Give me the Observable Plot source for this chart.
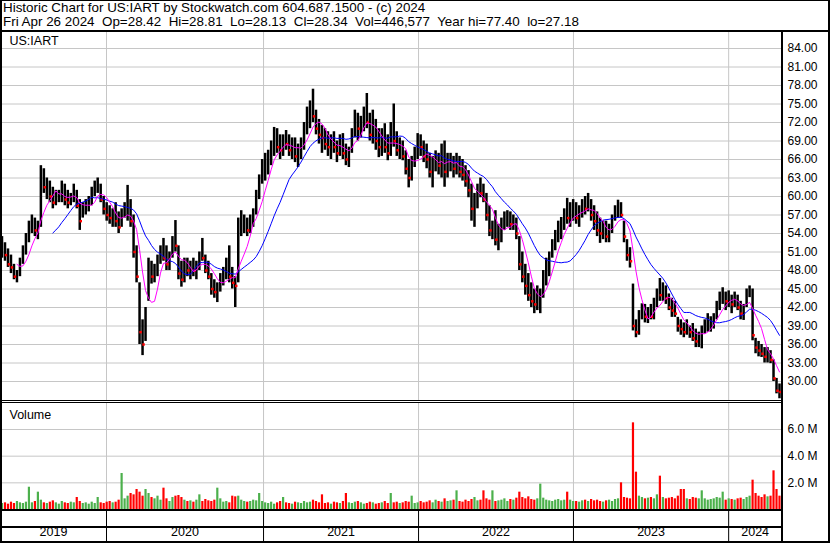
<!DOCTYPE html>
<html><head><meta charset="utf-8">
<script src="https://cdn.jsdelivr.net/npm/d3@7"></script>
<script src="https://cdn.jsdelivr.net/npm/@observablehq/plot@0.6"></script>
<style>
html,body{margin:0;padding:0;background:#fff;}
#wrap{position:relative;width:830px;height:543px;overflow:hidden;background:#fff;font-family:"Liberation Sans",Arial,sans-serif;}
.ln{position:absolute;background:#000;}
.pl{position:absolute;left:0;}
.pl svg{display:block;}
#hdr{position:absolute;left:3px;top:1px;font-size:13.4px;line-height:14px;white-space:pre;color:#000;}
</style></head><body>
<div id="wrap">
  <div id="hdr"></div>
  <div class="pl" id="price" style="top:32px"></div>
  <div class="pl" id="vol" style="top:403px"></div>
  <div class="pl" id="years" style="top:511px"></div>
  <div class="ln" style="left:0;top:0;width:830px;height:1px"></div>
  <div class="ln" style="left:0;top:0;width:2px;height:543px"></div>
  <div class="ln" style="left:828px;top:0;width:2px;height:543px"></div>
  <div class="ln" style="left:0;top:541px;width:830px;height:2px"></div>
  <div class="ln" style="left:0;top:30px;width:830px;height:2px"></div>
  <div class="ln" style="left:781px;top:30px;width:2px;height:513px"></div>
  <div class="ln" style="left:0;top:400px;width:781px;height:1px"></div>
  <div class="ln" style="left:0;top:402px;width:781px;height:1px"></div>
  <div class="ln" style="left:0;top:509px;width:781px;height:2px"></div>
  <div class="ln" style="left:0;top:526px;width:781px;height:2px"></div>
</div>
<script>
// ---- header text ----
const titleLine = "Historic Chart for US:IART by Stockwatch.com 604.687.1500 - (c) 2024";
const quoteLine = "Fri Apr 26 2024  Op=28.42  Hi=28.81  Lo=28.13  Cl=28.34  Vol=446,577  Year hi=77.40  lo=27.18";
const symbolLabel = "US:IART";
const volumeLabel = "Volume";

// ---- axis ticks / labels ----
const priceTicks = [30,33,36,39,42,45,48,51,54,57,60,63,66,69,72,75,78,81,84];
const volTicks = [2,4,6]; // millions
const yearLabels = ["2019","2020","2021","2022","2023","2024"];
const yearStartWeek = [34.95, 87.46, 139.3, 191.1, 243.0]; // week index where each new year begins

// ---- weekly price data (week 0 = late Apr 2019 ... week 260 = Apr 26 2024) ----
const highs = [
53.5,52.5,51.5,50.5,49.0,48.0,50.0,52.0,54.0,56.0,57.0,56.5,56.0,65.0,
64.5,63.0,62.5,61.5,61.0,61.0,62.5,62.0,61.0,60.5,62.0,61.0,59.5,59.0,59.5,60.0,61.5,62.5,63.0,62.0,
60.0,59.0,58.5,58.0,59.0,57.5,58.0,59.0,61.8,59.5,57.0,52.0,46.0,40.0,42.0,50.0,
49.5,49.0,50.5,52.0,53.2,52.0,51.0,53.5,56.1,52.0,49.5,50.0,50.0,49.5,50.0,49.5,51.0,53.2,50.5,49.5,47.5,46.5,46.0,47.5,48.5,50.0,52.0,48.5,47.0,
56.5,57.7,57.0,56.5,57.0,58.0,61.0,63.5,66.0,67.0,67.5,
69.0,71.2,71.0,70.0,70.0,70.7,70.0,69.5,69.5,68.5,69.5,72.0,74.5,75.5,77.4,74.0,72.5,71.5,71.0,70.5,70.0,70.5,69.0,70.0,70.2,68.5,68.0,71.0,74.0,73.5,73.0,74.5,76.7,73.5,74.0,72.5,71.0,
71.0,71.8,70.0,72.0,75.0,70.5,69.5,69.0,67.4,66.0,66.5,68.0,70.2,70.0,69.0,68.5,67.0,66.5,67.4,67.0,68.5,69.0,67.0,67.0,66.5,67.0,66.5,66.0,65.0,64.2,62.0,
60.5,62.0,63.0,62.0,60.5,58.5,56.0,57.7,55.5,56.5,57.5,57.7,57.5,57.0,56.5,53.5,51.0,49.0,47.5,46.0,45.0,45.5,45.0,48.0,50.0,51.0,53.0,54.5,56.0,56.6,58.0,59.7,
59.0,59.5,59.0,58.5,59.5,60.0,60.5,59.5,58.5,57.5,56.5,56.0,56.0,55.5,57.0,58.5,59.4,59.0,56.0,53.0,51.7,45.8,
40.0,41.5,42.6,42.5,42.0,42.5,43.5,45.0,46.7,46.0,45.5,44.2,43.5,43.0,40.4,40.0,39.5,40.0,39.0,39.4,38.5,38.0,39.0,40.0,41.0,40.5,41.0,43.0,44.5,45.2,44.5,44.7,44.0,44.5,44.0,43.0,42.5,45.0,45.5,45.0,37.0,36.5,36.0,35.5,35.5,35.0,33.5,30.5,29.6
];
const lows = [
50.0,49.5,48.5,47.5,46.5,46.0,47.0,49.0,50.5,52.5,54.0,53.5,53.0,55.0,
60.5,59.5,59.0,58.0,58.5,59.0,59.0,58.5,58.0,58.5,59.0,58.0,54.5,56.5,57.0,57.5,58.5,60.0,60.5,59.0,
57.0,56.0,55.5,55.0,55.0,54.0,55.0,56.5,56.0,55.0,50.0,46.0,36.0,34.2,36.5,43.0,
45.8,46.0,47.0,49.0,49.5,48.0,48.0,50.0,51.0,46.5,45.3,46.0,47.0,46.5,47.0,46.5,48.0,49.5,47.5,46.5,44.0,43.5,42.8,44.5,45.5,46.5,46.0,45.0,42.0,
46.0,53.5,54.0,53.5,54.0,55.0,57.0,59.5,62.0,62.5,63.5,
65.0,66.5,67.0,66.0,66.5,67.5,66.5,66.0,65.5,64.7,66.0,67.5,70.0,71.0,72.0,70.0,68.5,67.0,67.5,66.5,66.0,67.0,65.5,66.5,66.0,65.0,64.7,67.0,69.5,69.0,69.5,70.5,71.0,69.0,68.5,67.5,66.3,
66.5,67.0,65.8,66.5,68.0,66.5,66.0,65.8,63.5,61.4,62.5,64.7,66.0,66.5,65.5,64.5,63.0,61.4,64.0,63.5,63.0,61.5,63.0,64.0,63.0,63.5,63.0,62.5,61.5,59.8,56.0,
55.0,58.0,59.8,59.0,56.0,53.5,53.0,52.0,51.2,52.5,54.5,55.0,54.5,54.5,53.0,48.0,46.0,44.0,43.0,42.0,41.0,41.5,41.0,43.5,45.5,47.0,50.0,51.2,52.5,53.0,54.5,55.5,
55.0,56.0,55.5,55.0,56.5,57.0,57.5,56.0,54.5,53.5,52.4,53.0,52.5,52.5,54.0,56.0,56.5,56.5,52.5,49.5,48.4,38.2,
37.1,37.5,40.0,39.5,39.4,40.0,40.0,42.0,43.0,43.0,42.5,41.5,40.4,40.4,38.0,37.5,37.1,37.5,37.0,36.5,35.5,35.5,35.3,37.7,38.0,38.0,38.5,40.0,41.5,42.5,41.5,42.0,41.0,42.0,41.5,40.0,39.9,42.0,43.6,36.6,34.5,34.0,33.9,33.0,33.0,32.9,30.0,28.0,27.2
];
const closes = [
51.5,50.5,49.0,48.5,47.0,47.5,49.5,51.0,53.5,55.0,55.5,54.5,55.0,63.0,
61.5,62.0,60.0,59.0,60.0,60.0,61.5,59.5,59.0,59.5,61.0,58.5,56.0,58.0,58.5,59.5,61.0,61.5,62.0,59.5,
58.0,57.0,56.5,57.0,56.0,55.0,57.5,58.0,58.5,56.0,51.0,47.0,38.0,36.0,40.5,48.5,
47.0,48.0,50.0,51.5,50.0,49.0,50.5,53.0,52.0,47.5,46.5,48.5,48.0,48.5,48.0,49.0,50.5,50.0,48.0,47.0,45.0,44.5,45.5,46.5,47.5,48.5,47.0,46.0,45.5,
55.0,55.0,55.5,54.5,56.0,57.5,60.0,63.0,64.0,65.0,66.0,
68.0,69.5,68.0,67.5,69.0,68.5,67.5,68.5,66.5,67.5,68.5,71.5,72.5,74.5,73.0,71.0,70.0,69.5,68.5,68.0,69.0,68.0,67.0,69.0,67.0,66.0,67.5,70.5,72.5,71.0,72.0,73.5,72.0,70.0,71.0,69.0,68.0,
69.0,68.0,67.0,71.0,69.0,67.5,68.0,66.5,64.5,63.0,65.5,67.0,68.5,68.0,66.5,66.0,64.0,65.5,66.0,65.0,67.5,64.0,65.5,66.0,64.5,65.5,64.0,63.5,62.5,61.0,58.0,
59.0,61.0,60.5,59.5,57.0,54.5,55.0,53.0,53.5,55.5,56.0,56.5,55.5,56.0,54.0,49.0,47.0,45.5,44.0,43.0,42.5,43.5,44.0,47.5,49.0,50.5,52.0,53.5,54.5,55.5,57.0,56.5,
57.5,58.0,56.5,57.5,58.5,58.0,59.5,57.0,56.0,54.5,54.0,55.0,53.5,54.5,56.5,57.5,58.5,57.0,53.5,50.5,49.5,39.0,
38.0,41.0,41.5,40.5,41.0,40.5,43.0,45.0,44.0,44.5,43.5,42.0,41.5,41.0,39.0,38.5,38.0,39.0,38.0,37.0,36.5,37.5,38.5,39.0,39.5,40.0,40.5,42.5,43.5,44.0,43.0,43.5,42.5,43.5,42.0,41.0,41.5,44.5,44.5,37.5,35.5,35.0,34.5,34.0,34.5,33.5,30.5,28.5,28.3
];
// daily-volume level per week, millions of shares
const volumes = [
0.45,0.5,0.4,0.55,0.45,0.6,0.5,0.45,0.55,1.67,0.5,0.6,1.3,0.7,
0.5,0.45,0.55,0.65,0.5,0.4,0.6,0.5,0.45,0.55,0.5,0.9,0.6,0.45,0.5,0.4,0.55,0.45,0.9,0.5,0.45,0.55,
0.6,0.5,0.55,0.7,2.7,0.8,1.0,1.2,1.1,1.5,1.3,1.0,1.5,1.2,
0.9,0.8,1.0,0.7,1.6,0.8,0.6,0.9,1.0,1.05,0.9,0.7,0.6,0.65,0.55,0.7,1.1,0.6,0.75,0.65,0.6,0.7,1.6,0.8,0.55,0.6,0.5,1.0,0.95,1.0,0.7,0.6,0.55,0.6,0.7,0.65,1.2,0.6,
0.5,0.45,0.55,0.4,0.5,0.6,0.9,0.5,0.45,0.4,0.55,0.5,0.45,0.6,0.5,0.55,0.7,0.6,0.5,1.1,0.45,0.5,0.4,0.55,0.5,0.45,0.6,1.2,0.5,0.45,0.55,0.6,0.5,0.4,0.45,0.55,0.5,0.4,0.45,0.5,0.6,0.45,1.2,0.5,0.55,0.45,0.5,0.6,0.55,1.0,0.45,0.5,
0.6,0.5,0.55,0.65,0.5,0.7,0.6,0.55,0.8,0.6,0.65,0.7,1.4,0.6,0.55,0.7,0.6,0.75,0.9,0.65,0.7,1.4,0.8,0.7,1.4,0.6,0.65,0.7,0.8,0.6,0.75,0.7,0.85,1.3,0.9,0.8,0.95,0.75,0.7,0.8,1.9,0.85,0.7,0.65,0.6,0.7,0.75,0.65,0.7,1.3,0.7,0.6,
0.6,0.55,0.65,0.7,0.6,0.75,0.65,0.7,0.6,0.55,0.65,0.7,0.6,0.75,0.8,2.0,0.9,0.85,0.8,6.5,2.8,1.0,0.9,0.8,0.85,0.9,0.8,1.1,2.5,0.9,0.8,0.85,0.9,0.8,1.0,1.5,1.5,0.8,0.75,0.9,0.85,0.8,1.4,0.8,0.7,0.75,0.8,0.9,0.85,1.3,0.7,0.8,0.75,0.7,0.8,0.85,0.75,0.9,1.0,2.2,1.2,1.0,0.9,1.1,0.95,1.0,2.9,1.5,1.0
];

// ---- colours ----
const upColor = "#4cb04c", downColor = "#ff0000", barColor = "#000000";
const maShortColor = "#ff00ff", maLongColor = "#0000ff", gridColor = "#c6c6c6";

document.getElementById("hdr").textContent = titleLine + "\n" + quoteLine;

const data = closes.map((c, i) => ({
  i, hi: highs[i], lo: lows[i], close: c, vol: volumes[i],
  up: i === 0 || c >= closes[i - 1]
}));
const lastWeek = closes.length - 1;
const xScale = {domain: [0, lastWeek], range: [1.5, 779], axis: null};
const font = "'Liberation Sans', Arial, sans-serif";
const base = {width: 830, marginLeft: 0, marginRight: 49, marginTop: 0, marginBottom: 0,
  style: {fontFamily: font, background: "transparent", color: "#000", overflow: "visible"}};

// price panel
const price = Plot.plot({
  ...base, height: 368,
  x: xScale,
  y: {domain: [30, 84], range: [349, 16], axis: null},
  marks: [
    Plot.ruleY(priceTicks, {y: d => d, stroke: gridColor, strokeOpacity: 1}),
    Plot.ruleX(yearStartWeek, {x: d => d, stroke: gridColor, strokeOpacity: 1}),
    Plot.ruleX(data, {x: "i", y1: "lo", y2: "hi", stroke: barColor, strokeWidth: 2.5}),
    Plot.dot(data.filter(d => !d.up), {x: "i", y: "close", r: 1.4, symbol: "square", fill: downColor, stroke: "none", dx: 1}),
    Plot.line(data, Plot.windowY({k: 18, anchor: "end", strict: true}, {x: "i", y: "close", stroke: maLongColor, strokeWidth: 1})),
    Plot.line(data, Plot.windowY({k: 6, anchor: "end", strict: true}, {x: "i", y: "close", stroke: maShortColor, strokeWidth: 1})),
    Plot.text(priceTicks, {y: d => d, text: d => d.toFixed(2), frameAnchor: "right", textAnchor: "start", dx: 6, fontSize: 12, fill: "#000"}),
    Plot.text([symbolLabel], {text: d => d, frameAnchor: "top-left", lineAnchor: "top", dx: 9, dy: 4, fontSize: 12.5, fill: "#000"})
  ]
});
document.getElementById("price").appendChild(price);

// volume panel
const vol = Plot.plot({
  ...base, height: 106,
  x: xScale,
  y: {domain: [0, 6], range: [106, 26], axis: null},
  color: {type: "identity"},
  marks: [
    Plot.ruleY(volTicks, {y: d => d, stroke: gridColor, strokeOpacity: 1}),
    Plot.ruleX(yearStartWeek, {x: d => d, stroke: gridColor, strokeOpacity: 1}),
    Plot.ruleX(data, {x: "i", y1: 0, y2: "vol", stroke: d => d.up ? upColor : downColor, strokeWidth: 2.2}),
    Plot.text(volTicks, {y: d => d, text: d => d.toFixed(1) + " M", frameAnchor: "right", textAnchor: "start", dx: 6, fontSize: 12, fill: "#000"}),
    Plot.text([volumeLabel], {text: d => d, frameAnchor: "top-left", lineAnchor: "top", dx: 9, dy: 7, fontSize: 12.5, fill: "#000"})
  ]
});
document.getElementById("vol").appendChild(vol);

// year band
const bounds = [-0.5, ...yearStartWeek, 260.7];
const years = Plot.plot({
  ...base, height: 30,
  x: xScale,
  y: {domain: [0, 1], range: [30, 0], axis: null},
  marks: [
    Plot.ruleX(yearStartWeek, {x: d => d, stroke: "#000", strokeWidth: 1}),
    Plot.text(yearLabels, {x: (d, k) => (bounds[k] + bounds[k + 1]) / 2, text: d => d, frameAnchor: "bottom", dy: -6, fontSize: 12.5, fill: "#000"})
  ]
});
document.getElementById("years").appendChild(years);
</script>
</body></html>
